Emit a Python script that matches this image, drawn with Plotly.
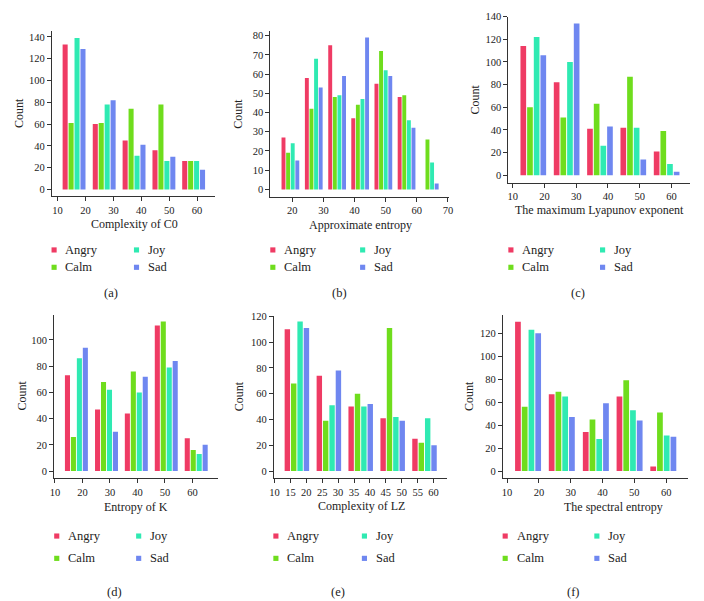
import plotly.graph_objects as go

W, H = 704, 601

# ---------------- data ----------------
emotions = ["Angry", "Calm", "Joy", "Sad"]
colors = ["#ef3b64", "#6fdd1d", "#2feab2", "#6f87f0"]

# (a) Complexity of C0
a_bins = [15.9, 26.7, 37.4, 48.1, 58.75]
a_angry = [133, 60, 45, 36, 26]
a_calm = [61, 61, 74, 78, 26]
a_joy = [139, 78, 31, 26, 26]
a_sad = [129, 82, 41, 30, 18]

# (b) Approximate entropy
b_bins = [19.4, 26.9, 34.4, 41.8, 49.25, 56.7, 64.15]
b_angry = [27, 58, 75, 37, 55, 48, 0]
b_calm = [19, 42, 48, 44, 72, 49, 26]
b_joy = [24, 68, 49, 47, 62, 36, 14]
b_sad = [15, 53, 59, 79, 59, 32, 3]

# (c) The maximum Lyapunov exponent
c_bins = [16.5, 27.0, 37.5, 48.0, 58.5]
c_angry = [114, 82, 41, 42, 21]
c_calm = [60, 51, 63, 87, 39]
c_joy = [122, 100, 26, 42, 10]
c_sad = [106, 134, 43, 14, 3]

# (d) Entropy of K
d_bins = [17.8, 28.75, 39.6, 50.5, 61.4]
d_angry = [73, 47, 44, 111, 25]
d_calm = [26, 68, 76, 114, 16]
d_joy = [86, 62, 60, 79, 13]
d_sad = [94, 30, 72, 84, 20]

# (e) Complexity of LZ
e_bins = [17.05, 27.1, 37.1, 47.15, 57.15]
e_angry = [110, 74, 50, 41, 25]
e_calm = [68, 39, 60, 111, 22]
e_joy = [116, 51, 50, 42, 41]
e_sad = [111, 78, 52, 39, 20]

# (f) The spectral entropy
f_bins = [16.6, 27.2, 37.9, 48.5, 59.1]
f_angry = [130, 67, 34, 65, 4]
f_calm = [56, 69, 45, 79, 51]
f_joy = [123, 65, 28, 53, 31]
f_sad = [120, 47, 59, 44, 30]

x_titles = ["Complexity of C0", "Approximate entropy", "The maximum Lyapunov exponent",
            "Entropy of K", "Complexity of LZ", "The spectral entropy"]
panel_labels = ["(a)", "(b)", "(c)", "(d)", "(e)", "(f)"]

x_ticks = [
    [10, 20, 30, 40, 50, 60],
    [20, 30, 40, 50, 60, 70],
    [10, 20, 30, 40, 50, 60],
    [10, 20, 30, 40, 50, 60],
    [10, 15, 20, 25, 30, 35, 40, 45, 50, 55, 60],
    [10, 20, 30, 40, 50, 60],
]
y_ticks = [
    [0, 20, 40, 60, 80, 100, 120, 140],
    [0, 10, 20, 30, 40, 50, 60, 70, 80],
    [0, 20, 40, 60, 80, 100, 120, 140],
    [0, 20, 40, 60, 80, 100],
    [0, 20, 40, 60, 80, 100, 120],
    [0, 20, 40, 60, 80, 100, 120],
]

panels = [
    (a_bins, [a_angry, a_calm, a_joy, a_sad]),
    (b_bins, [b_angry, b_calm, b_joy, b_sad]),
    (c_bins, [c_angry, c_calm, c_joy, c_sad]),
    (d_bins, [d_angry, d_calm, d_joy, d_sad]),
    (e_bins, [e_angry, e_calm, e_joy, e_sad]),
    (f_bins, [f_angry, f_calm, f_joy, f_sad]),
]

# ---------------- layout geometry (pixels) ----------------
boxes = [  # x0, x1, y0(top), y1(bottom)
    (47.7, 213.0, 26.0, 193.0),
    (269.3, 450.0, 26.0, 193.3),
    (510.7, 695.0, 11.7, 179.0),
    (50.0, 216.0, 312.7, 477.3),
    (272.7, 448.3, 313.3, 477.3),
    (505.0, 693.3, 312.7, 477.3),
]
x_ranges = [[8.0, 66.4], [13.0, 70.2], [8.67, 65.9], [9.75, 69.3], [9.8, 64.2], [8.67, 67.0]]
y_ranges = [[-6.4, 145.7], [-3.8, 82.5], [-6.4, 140.0], [-5.5, 118.9], [-5.6, 120.5], [-6.3, 135.8]]

count_pos = [(14, 109), (236, 110), (477, 95), (17, 394), (237, 395), (470, 394)]
xtitle_pos = [(131, 221), (361, 222), (603, 207), (133, 506), (362, 505), (617, 506)]
legend_rows = [(247, 264.5), (247, 264.5), (247, 264.5), (535.5, 558), (535.5, 558), (535.5, 558)]
legend_cols = [(49.8, 133.4), (271.7, 362.8), (513.2, 606.2), (52.5, 135.6), (274.8, 364.6), (507.4, 600.4)]
label_pos = [(108, 290.5), (339, 290.5), (581.5, 290.5), (111, 592), (338, 592), (577, 592)]

FONT = "Liberation Serif, Times New Roman, serif"
AX = "#333333"


def px(x):
    return x / W


def py(y):
    return 1 - y / H


fig = go.Figure()
annotations = []
shapes = []

for i, (bins, series) in enumerate(panels):
    n = i + 1
    xa = "x" if n == 1 else f"x{n}"
    ya = "y" if n == 1 else f"y{n}"
    for name, col, vals in zip(emotions, colors, series):
        fig.add_trace(go.Bar(
            x=bins, y=vals, name=name, marker=dict(color=col, line=dict(width=0)),
            xaxis=xa, yaxis=ya, showlegend=False, offsetgroup=name,
        ))
    x0, x1, yt, yb = boxes[i]
    axis_common = dict(
        showline=True, linecolor=AX, linewidth=1.2, ticks="outside", ticklen=4,
        tickcolor=AX, tickwidth=1.2, showgrid=False, zeroline=False,
        tickfont=dict(family=FONT, size=10.5, color="#222"),
    )
    fig.update_layout(**{
        ("xaxis" if n == 1 else f"xaxis{n}"): dict(
            domain=[px(x0), px(x1)], anchor=ya, range=x_ranges[i],
            tickvals=x_ticks[i], **axis_common),
        ("yaxis" if n == 1 else f"yaxis{n}"): dict(
            domain=[py(yb), py(yt)], anchor=xa, range=y_ranges[i],
            tickvals=y_ticks[i], **axis_common),
    })
    # axis titles
    cx, cy = count_pos[i]
    annotations.append(dict(text="Count", x=px(cx), y=py(cy), xref="paper", yref="paper",
                            textangle=-90, showarrow=False, xanchor="center", yanchor="middle",
                            font=dict(family=FONT, size=12, color="#222")))
    tx, ty = xtitle_pos[i]
    annotations.append(dict(text=x_titles[i], x=px(tx), y=py(ty), xref="paper", yref="paper",
                            showarrow=False, xanchor="center", yanchor="middle",
                            font=dict(family=FONT, size=12, color="#222")))
    # legend (Angry/Calm in first column, Joy/Sad in second)
    r1, r2 = legend_rows[i]
    c1, c2 = legend_cols[i]
    spots = [(c1, r1), (c1, r2), (c2, r1), (c2, r2)]
    for (mx, my), name, col in zip(spots, emotions, colors):
        shapes.append(dict(type="rect", xref="paper", yref="paper",
                           x0=px(mx - 2.6), x1=px(mx + 2.6), y0=py(my + 2.6), y1=py(my - 2.6),
                           fillcolor=col, line=dict(width=0)))
        annotations.append(dict(text=name, x=px(mx + 9.5), y=py(my), xref="paper", yref="paper",
                                showarrow=False, xanchor="left", yanchor="middle",
                                font=dict(family=FONT, size=12.5, color="#222")))
    lx, ly = label_pos[i]
    annotations.append(dict(text=panel_labels[i], x=px(lx), y=py(ly), xref="paper", yref="paper",
                            showarrow=False, xanchor="center", yanchor="middle",
                            font=dict(family=FONT, size=12.5, color="#222")))

fig.update_layout(
    width=W, height=H, margin=dict(l=0, r=0, t=0, b=0),
    paper_bgcolor="white", plot_bgcolor="white",
    barmode="group", bargap=0.2, bargroupgap=0.15,
    annotations=annotations, shapes=shapes, showlegend=False,
)

fig.write_html(
    "out.html",
    config={"displayModeBar": False},
    post_script="document.body.style.margin='0px';document.body.style.overflow='hidden';",
)
